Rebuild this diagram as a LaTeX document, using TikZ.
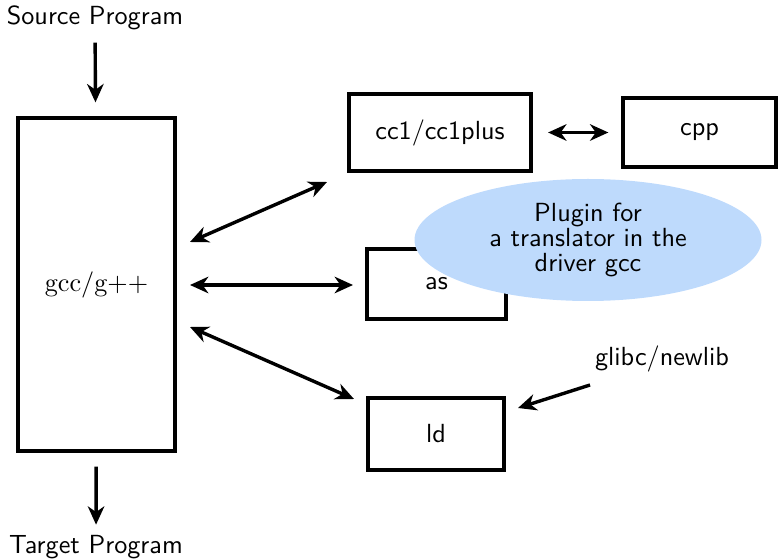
\documentclass[tikz,border=0pt]{standalone}
\usetikzlibrary{arrows.meta,shapes.geometric}
\newcommand\pxu{0.3817pt}
\definecolor{plugblue}{RGB}{190,218,252}
\tikzset{
  boxnode/.style={draw,line width=1.25pt,inner sep=0pt,font=\sffamily},
  lbl/.style={inner sep=0pt,font=\sffamily},
  arr/.style={line width=1.3pt,-{Stealth[length=7pt,width=6.3pt,inset=2.2pt]}},
  darr/.style={line width=1.3pt,{Stealth[length=7pt,width=6.3pt,inset=2.2pt]}-{Stealth[length=7pt,width=6.3pt,inset=2.2pt]}}
}
\begin{document}
\begin{tikzpicture}[x=0.3817pt,y=-0.3817pt]
\useasboundingbox (0,0) rectangle (778,560);
\node[lbl] (src) at (95,18) {Source Program};
\node[boxnode,font=\rmfamily,minimum width=157*\pxu,minimum height=333*\pxu] (gcc) at (96.5,284.5) {gcc/g++};
\node[lbl] (tgt) at (96,547) {Target Program};
\node[boxnode,line width=1.6pt,minimum width=182*\pxu,minimum height=77*\pxu] (cc1) at (440,132.5) {cc1/cc1plus};
\node[boxnode,minimum width=153*\pxu,minimum height=69*\pxu] (cpp) at (699.5,132.5) {cpp};
\node[boxnode,minimum width=139*\pxu,minimum height=70*\pxu] (as) at (436.5,284) {as};
\node[boxnode,minimum width=136*\pxu,minimum height=72*\pxu] (ld) at (436,434) {ld};
\node[ellipse,fill=plugblue,inner sep=0pt,minimum width=347*\pxu,minimum height=122*\pxu,align=center,font=\sffamily] (plug) at (588,240) {Plugin for\\[-2.5pt]a translator in the\\[-2.5pt]driver gcc};
\node[lbl] (glibc) at (662,359) {glibc/newlib};
\coordinate (g1) at (190,242);
\coordinate (c1) at (327,182);
\coordinate (g2) at (190,285);
\coordinate (a2) at (353,285);
\coordinate (g3) at (190,327);
\coordinate (l3) at (354,399);
\coordinate (gl) at (590,385);
\coordinate (ldin) at (518,408);
\draw[arr,shorten <=12*\pxu,shorten >=14*\pxu] (src) -- (gcc);
\draw[arr,shorten <=14*\pxu,shorten >=10*\pxu] (gcc) -- (tgt);
\draw[darr] (g1) -- (c1);
\draw[darr] (g2) -- (a2);
\draw[darr] (g3) -- (l3);
\draw[darr,shorten <=15*\pxu,shorten >=13*\pxu] (cc1.east) -- (cpp.west);
\draw[arr] (gl) -- (ldin);
\end{tikzpicture}
\end{document}
